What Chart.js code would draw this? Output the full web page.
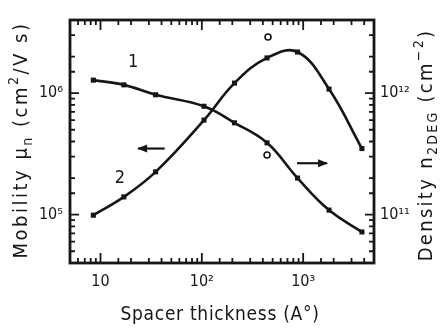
<!DOCTYPE html>
<html>
<head>
<meta charset="utf-8">
<script src="https://cdn.jsdelivr.net/npm/chart.js@4.4.1/dist/chart.umd.min.js"></script>
<style>
  html, body { margin: 0; padding: 0; background: #fff; }
  canvas { display: block; }
</style>
</head>
<body>
<canvas id="chart" width="441" height="330"></canvas>
<script>
/* ═══════════════════════════════════════════
   DATA
═══════════════════════════════════════════ */
// spacer thickness (A°), shared by both curves
const thickness = [8.5, 17, 35, 105, 210, 440, 880, 1800, 3800];
// curve 1 : 2DEG density (cm^-2), right axis
const density   = [1.28e12, 1.17e12, 9.7e11, 7.8e11, 5.7e11, 3.9e11, 2.0e11, 1.09e11, 7.2e10];
// curve 2 : mobility (cm^2/V s), left axis
const mobility  = [9.9e4, 1.4e5, 2.25e5, 6.0e5, 1.21e6, 1.95e6, 2.18e6, 1.08e6, 3.5e5];
// single open-circle points
const densityOpenX  = [440];
const densityOpenY  = [3.1e11];
const mobilityOpenX = [450];
const mobilityOpenY = [2.9e6];
// axis ranges
const xRange   = [5, 5000];
const mobRange = [4e4, 4e6];
const denRange = [4e10, 4e12];

/* ═══════════════════════════════════════════
   HELPERS
═══════════════════════════════════════════ */
const INK  = '#161616';
const FONT = "'DejaVu Sans Condensed', 'Liberation Sans Narrow', 'DejaVu Sans', sans-serif";
const SUP  = {'0':'⁰','1':'¹','2':'²','3':'³','4':'⁴','5':'⁵','6':'⁶','7':'⁷','8':'⁸','9':'⁹','-':'⁻'};

function isPow10(v){
  const l = Math.log10(v);
  return Math.abs(l - Math.round(l)) < 1e-6;
}
function pow10Label(v){
  if(!isPow10(v)) return '';
  const e = Math.round(Math.log10(v));
  if(e === 1) return '10';
  return '10' + String(e).split('').map(c => SUP[c]).join('');
}
const pts = (xs, ys) => xs.map((x, i) => ({x, y: ys[i]}));

// text made of parts [text, shift]: shift -1 subscript, 1 superscript
function richText(ctx, parts, x, y, rot, size, spacing){
  ctx.save();
  ctx.translate(x, y);
  ctx.rotate(rot);
  ctx.fillStyle = INK;
  ctx.textBaseline = 'middle';
  ctx.textAlign = 'left';
  ctx.letterSpacing = (spacing || 0) + 'px';
  const fontOf = s => (s ? Math.round(size * 0.68) : size) + 'px ' + FONT;
  let total = 0;
  const widths = parts.map(([t, s]) => { ctx.font = fontOf(s); const w = ctx.measureText(t).width; total += w; return w; });
  let cx = -total / 2;
  parts.forEach(([t, s], i) => {
    ctx.font = fontOf(s);
    const dy = s < 0 ? size * 0.32 : s > 0 ? -size * 0.38 : 0;
    ctx.fillText(t, cx, dy);
    cx += widths[i];
  });
  ctx.restore();
}

function arrow(ctx, x1, x2, y, headLeft){
  ctx.save();
  ctx.strokeStyle = INK; ctx.fillStyle = INK; ctx.lineWidth = 2.2;
  ctx.beginPath(); ctx.moveTo(x1, y); ctx.lineTo(x2, y); ctx.stroke();
  const hx = headLeft ? x1 : x2, d = headLeft ? 1 : -1;
  ctx.beginPath();
  ctx.moveTo(hx - d * 1, y);
  ctx.lineTo(hx + d * 9, y - 4);
  ctx.lineTo(hx + d * 9, y + 4);
  ctx.closePath(); ctx.fill();
  ctx.restore();
}

/* ═══════════════════════════════════════════
   FRAME, INWARD TICKS, TITLES, LABELS
═══════════════════════════════════════════ */
const decorations = {
  id: 'decorations',
  afterDraw(chart){
    const {ctx, chartArea: a, scales} = chart;
    ctx.save();
    ctx.strokeStyle = INK;

    // inward tick marks from the library's own tick lists
    ctx.lineWidth = 1.8;
    ctx.beginPath();
    scales.x.ticks.forEach(t => {
      const p = scales.x.getPixelForValue(t.value);
      const len = isPow10(t.value) ? 10 : 5;
      ctx.moveTo(p, a.bottom); ctx.lineTo(p, a.bottom - len);
      ctx.moveTo(p, a.top);    ctx.lineTo(p, a.top + len);
    });
    scales.y.ticks.forEach(t => {
      const p = scales.y.getPixelForValue(t.value);
      const len = isPow10(t.value) ? 9 : 5;
      ctx.moveTo(a.left, p); ctx.lineTo(a.left + len, p);
    });
    scales.y2.ticks.forEach(t => {
      const p = scales.y2.getPixelForValue(t.value);
      const len = isPow10(t.value) ? 9 : 5;
      ctx.moveTo(a.right, p); ctx.lineTo(a.right - len, p);
    });
    ctx.stroke();

    // frame
    ctx.lineWidth = 2.8;
    ctx.strokeRect(a.left, a.top, a.right - a.left, a.bottom - a.top);

    // axis titles
    richText(ctx, [['Mobility μ', 0], ['n', -1], [' (cm', 0], ['2', 1], ['/V s)', 0]],
             22, 140, -Math.PI / 2, 20, 2.5);
    richText(ctx, [['Density n', 0], ['2DEG', -1], [' (cm', 0], ['−2', 1], [')', 0]],
             427, 145, -Math.PI / 2, 20, 2.3);
    richText(ctx, [['Spacer thickness (A°)', 0]], 220, 315, 0, 19, 0.7);

    // curve numbers and arrows, placed in data coordinates
    ctx.fillStyle = INK;
    ctx.font = '18px ' + FONT;
    ctx.textAlign = 'center'; ctx.textBaseline = 'middle';
    ctx.fillText('1', scales.x.getPixelForValue(21),   scales.y2.getPixelForValue(1.8e12));
    ctx.fillText('2', scales.x.getPixelForValue(15.5), scales.y.getPixelForValue(2.0e5));
    arrow(ctx, scales.x.getPixelForValue(23.5), scales.x.getPixelForValue(43),
          scales.y.getPixelForValue(3.5e5), true);
    arrow(ctx, scales.x.getPixelForValue(870), scales.x.getPixelForValue(1720),
          scales.y2.getPixelForValue(2.65e11), false);
    ctx.restore();
  }
};

/* ═══════════════════════════════════════════
   CHART
═══════════════════════════════════════════ */
const tickFont = { family: FONT, size: 16 };
const hidden   = { display: false, drawTicks: false, tickLength: 0 };

new Chart(document.getElementById('chart').getContext('2d'), {
  type: 'line',
  data: {
    datasets: [
      {
        label: 'density',
        yAxisID: 'y2',
        data: pts(thickness, density),
        borderColor: INK, borderWidth: 2.6, tension: 0.4,
        pointStyle: 'rect', pointRadius: 3.6,
        pointBackgroundColor: INK, pointBorderColor: INK, pointBorderWidth: 0,
      },
      {
        label: 'mobility',
        yAxisID: 'y',
        data: pts(thickness, mobility),
        borderColor: INK, borderWidth: 2.6, tension: 0.4,
        pointStyle: 'rect', pointRadius: 3.6,
        pointBackgroundColor: INK, pointBorderColor: INK, pointBorderWidth: 0,
      },
      {
        label: 'density (open)',
        yAxisID: 'y2', showLine: false,
        data: pts(densityOpenX, densityOpenY),
        pointStyle: 'circle', pointRadius: 3,
        pointBackgroundColor: '#fff', pointBorderColor: INK, pointBorderWidth: 1.6,
      },
      {
        label: 'mobility (open)',
        yAxisID: 'y', showLine: false,
        data: pts(mobilityOpenX, mobilityOpenY),
        pointStyle: 'circle', pointRadius: 3,
        pointBackgroundColor: '#fff', pointBorderColor: INK, pointBorderWidth: 1.6,
      },
    ]
  },
  options: {
    responsive: false,
    devicePixelRatio: 1,
    animation: false,
    layout: { padding: { top: 20, left: 0, right: 0, bottom: 0 } },
    plugins: { legend: { display: false }, tooltip: { enabled: false } },
    scales: {
      x: {
        type: 'logarithmic', position: 'bottom',
        min: xRange[0], max: xRange[1],
        grid: hidden, border: { display: false },
        ticks: { autoSkip: false, maxRotation: 0, padding: 9, color: INK, font: tickFont, callback: v => pow10Label(v) },
        afterFit: s => { s.height = 67; }
      },
      y: {
        type: 'logarithmic', position: 'left',
        min: mobRange[0], max: mobRange[1],
        grid: hidden, border: { display: false },
        ticks: { autoSkip: false, padding: 7, color: INK, font: tickFont, callback: v => pow10Label(v) },
        afterFit: s => { s.width = 70; }
      },
      y2: {
        type: 'logarithmic', position: 'right',
        min: denRange[0], max: denRange[1],
        grid: hidden, border: { display: false },
        ticks: { autoSkip: false, padding: 6, color: INK, font: tickFont, callback: v => pow10Label(v) },
        afterFit: s => { s.width = 67; }
      }
    }
  },
  plugins: [decorations]
});
</script>
</body>
</html>
